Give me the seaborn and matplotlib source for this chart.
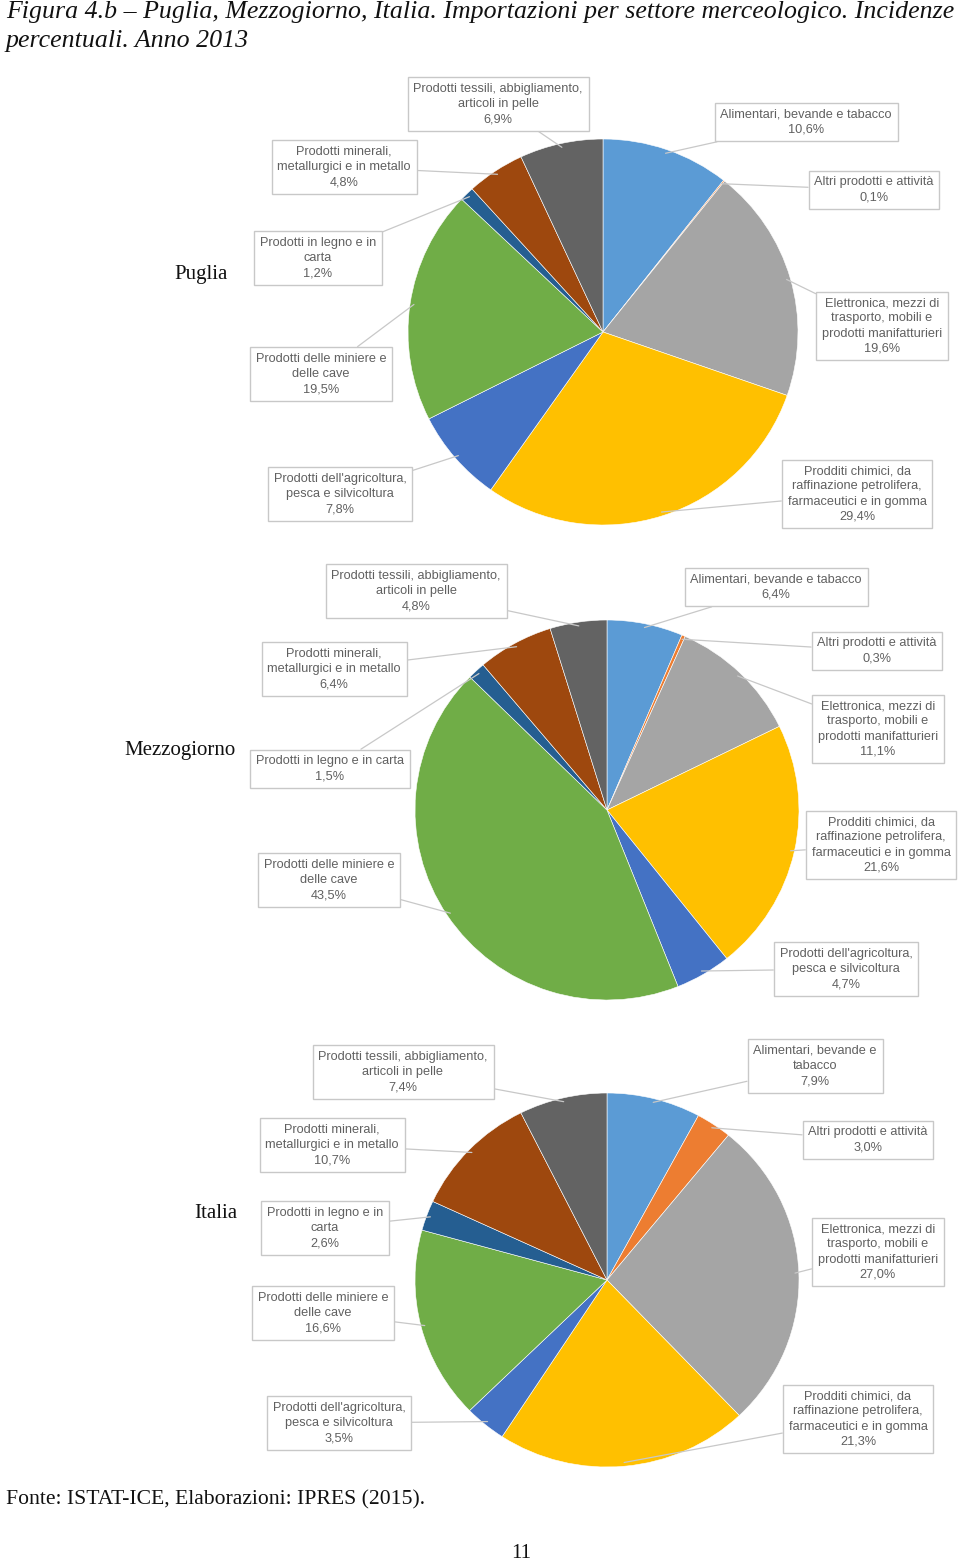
import numpy as np
import pandas as pd
import seaborn as sns
import matplotlib
matplotlib.use("Agg")
import matplotlib.pyplot as plt

sns.set_theme(style="white")
plt.rcParams['font.family'] = ['Liberation Sans Narrow', 'Liberation Sans', 'DejaVu Sans']

# ---------------- data ----------------
sectors = [
    "Alimentari, bevande e tabacco",
    "Altri prodotti e attività",
    "Elettronica, mezzi di trasporto, mobili e prodotti manifatturieri",
    "Prodditi chimici, da raffinazione petrolifera, farmaceutici e in gomma",
    "Prodotti dell'agricoltura, pesca e silvicoltura",
    "Prodotti delle miniere e delle cave",
    "Prodotti in legno e in carta",
    "Prodotti minerali, metallurgici e in metallo",
    "Prodotti tessili, abbigliamento, articoli in pelle",
]
puglia = [10.6, 0.1, 19.6, 29.4, 7.8, 19.5, 1.2, 4.8, 6.9]
mezzogiorno = [6.4, 0.3, 11.1, 21.6, 4.7, 43.5, 1.5, 6.4, 4.8]
italia = [7.9, 3.0, 27.0, 21.3, 3.5, 16.6, 2.6, 10.7, 7.4]
regions = ["Puglia", "Mezzogiorno", "Italia"]

labels_puglia = [
    "Alimentari, bevande e tabacco",
    "Altri prodotti e attività",
    "Elettronica, mezzi di\ntrasporto, mobili e\nprodotti manifatturieri",
    "Prodditi chimici, da\nraffinazione petrolifera,\nfarmaceutici e in gomma",
    "Prodotti dell'agricoltura,\npesca e silvicoltura",
    "Prodotti delle miniere e\ndelle cave",
    "Prodotti in legno e in\ncarta",
    "Prodotti minerali,\nmetallurgici e in metallo",
    "Prodotti tessili, abbigliamento,\narticoli in pelle",
]
labels_mezzogiorno = [
    "Alimentari, bevande e tabacco",
    "Altri prodotti e attività",
    "Elettronica, mezzi di\ntrasporto, mobili e\nprodotti manifatturieri",
    "Prodditi chimici, da\nraffinazione petrolifera,\nfarmaceutici e in gomma",
    "Prodotti dell'agricoltura,\npesca e silvicoltura",
    "Prodotti delle miniere e\ndelle cave",
    "Prodotti in legno e in carta",
    "Prodotti minerali,\nmetallurgici e in metallo",
    "Prodotti tessili, abbigliamento,\narticoli in pelle",
]
labels_italia = [
    "Alimentari, bevande e\ntabacco",
    "Altri prodotti e attività",
    "Elettronica, mezzi di\ntrasporto, mobili e\nprodotti manifatturieri",
    "Prodditi chimici, da\nraffinazione petrolifera,\nfarmaceutici e in gomma",
    "Prodotti dell'agricoltura,\npesca e silvicoltura",
    "Prodotti delle miniere e\ndelle cave",
    "Prodotti in legno e in\ncarta",
    "Prodotti minerali,\nmetallurgici e in metallo",
    "Prodotti tessili, abbigliamento,\narticoli in pelle",
]

title = ("Figura 4.b – Puglia, Mezzogiorno, Italia. Importazioni per settore merceologico. Incidenze\n"
         "percentuali. Anno 2013")
source = "Fonte: ISTAT-ICE, Elaborazioni: IPRES (2015)."
page = "11"

colors = ["#5B9BD5", "#ED7D31", "#A5A5A5", "#FFC000", "#4472C4",
          "#70AD47", "#255E91", "#9E480E", "#636363"]

# ---------------- layout (image pixels, origin top-left) ----------------
W, H = 960, 1563
pie_geom = [  # cx, cy, rx, ry
    (603, 332, 195, 193),
    (607, 810, 192, 190),
    (607, 1280, 192, 187),
]
label_pos = [
    [(806, 122), (874, 190), (882, 326), (857, 494), (340, 494),
     (321, 374), (318, 258), (344, 167), (498, 104)],
    [(776, 587), (877, 651), (878, 729), (881, 845), (846, 969),
     (329, 880), (330, 769), (334, 669), (416, 591)],
    [(815, 1066), (868, 1140), (878, 1252), (858, 1419), (339, 1423),
     (323, 1313), (325, 1228), (332, 1145), (403, 1072)],
]
region_pos = [(201, 275), (180, 750), (216, 1213)]

fig = plt.figure(figsize=(W / 100, H / 100), dpi=100)
fig.patch.set_facecolor("white")

serif = ['Liberation Serif', 'DejaVu Serif']

fig.text(6 / W, 1 - 1 / H, title, ha="left", va="top", family=serif,
         style="italic", fontsize=18.6, color="#111111", linespacing=1.4)

all_values = [puglia, mezzogiorno, italia]
all_labels = [labels_puglia, labels_mezzogiorno, labels_italia]

for k in range(3):
    cx, cy, rx, ry = pie_geom[k]
    ax = fig.add_axes([(cx - rx) / W, (H - cy - ry) / H, 2 * rx / W, 2 * ry / H])
    df = pd.DataFrame({"settore": sectors, "valore": all_values[k]})
    wedges, _ = ax.pie(df["valore"], colors=colors, startangle=90,
                       counterclock=False, radius=1.0,
                       wedgeprops=dict(linewidth=0.4, edgecolor="white"))
    ax.set_aspect("auto")
    ax.set_xlim(-1, 1)
    ax.set_ylim(-1, 1)
    ax.axis("off")
    for i, w in enumerate(wedges):
        mid = np.deg2rad((w.theta1 + w.theta2) / 2)
        xy = (np.cos(mid) * 0.98, np.sin(mid) * 0.98)
        val = f"{all_values[k][i]:.1f}".replace(".", ",") + "%"
        tx, ty = label_pos[k][i]
        ax.annotate(all_labels[k][i] + "\n" + val, xy=xy, xycoords="data",
                    xytext=(tx, H - ty), textcoords="figure pixels",
                    ha="center", va="center", fontsize=9.2, color="#606060",
                    linespacing=1.35, annotation_clip=False,
                    bbox=dict(boxstyle="square,pad=0.45", fc="white",
                              ec="#C8C8C8", lw=1.0),
                    arrowprops=dict(arrowstyle="-", color="#C8C8C8", lw=0.9,
                                    shrinkA=0, shrinkB=0))
    rxp, ryp = region_pos[k]
    fig.text(rxp / W, 1 - ryp / H, regions[k], ha="center", va="center",
             family=serif, fontsize=15, color="#111111")

fig.text(6 / W, 1 - 1500 / H, source, ha="left", va="center", family=serif,
         fontsize=15.6, color="#111111")
fig.text(521 / W, 1 - 1553 / H, page, ha="center", va="center", family=serif,
         fontsize=15, color="#111111")

fig.savefig("out.png", dpi=100, facecolor="white")
